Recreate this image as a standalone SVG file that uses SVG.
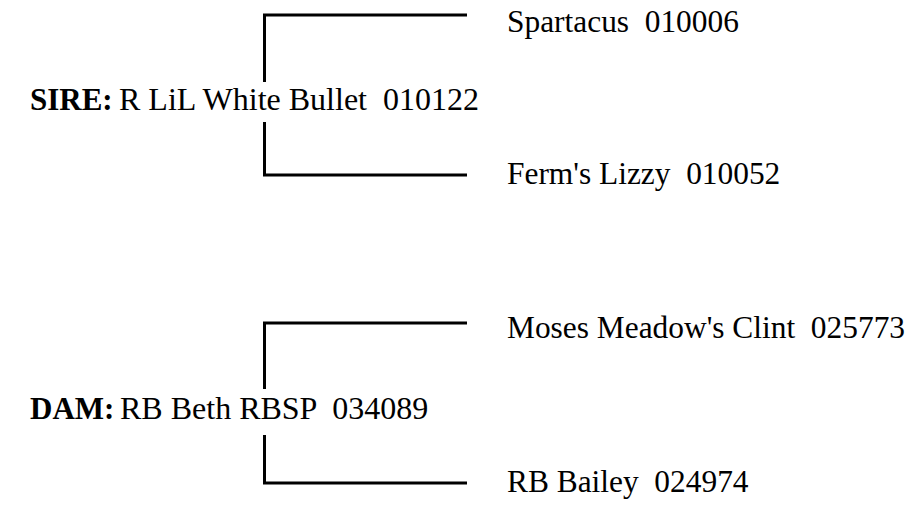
<svg xmlns="http://www.w3.org/2000/svg" width="911" height="506" viewBox="0 0 911 506">
<style>
text{font-family:"Liberation Serif","Times New Roman",serif;font-size:31.4px;fill:#000;white-space:pre}
.l{font-size:32px}
.b{font-weight:bold;font-size:31px}
.ln{fill:none;stroke:#000;stroke-width:3}
</style>
<rect width="911" height="506" fill="#fff"/>
<g id="connectors">
<path class="ln" d="M264.5,82 V15 H467"/>
<path class="ln" d="M264.5,122 V175 H467"/>
<path class="ln" d="M264.5,389 V323 H467"/>
<path class="ln" d="M264.5,435 V483 H467"/>
</g>
<g id="sire"><text x="30" y="110" class="b">SIRE:</text><text x="119" y="110" class="l">R LiL White Bullet  010122</text></g>
<g id="sire-sire"><text x="507" y="32">Spartacus  010006</text></g>
<g id="sire-dam"><text x="507" y="184">Ferm's Lizzy  010052</text></g>
<g id="dam"><text x="30" y="419" class="b">DAM:</text><text x="120" y="419" class="l">RB Beth RBSP  034089</text></g>
<g id="dam-sire"><text x="507" y="338">Moses Meadow's Clint  025773</text></g>
<g id="dam-dam"><text x="507" y="492">RB Bailey  024974</text></g>
</svg>
